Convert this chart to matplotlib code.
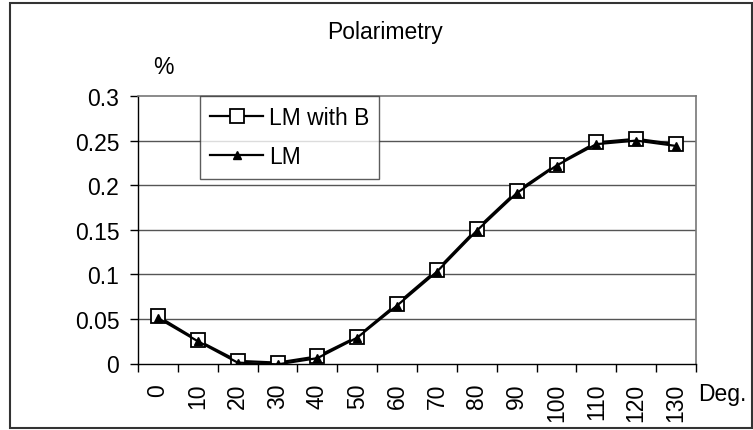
import matplotlib.pyplot as plt
from matplotlib.patches import Rectangle

# data
angles = ["0", "10", "20", "30", "40", "50", "60", "70", "80", "90", "100", "110", "120", "130"]
lm_with_b = [0.053, 0.026, 0.003, 0.001, 0.008, 0.030, 0.067, 0.105, 0.151, 0.193, 0.223, 0.248, 0.252, 0.246]
lm = [0.051, 0.025, 0.001, -0.001, 0.006, 0.029, 0.065, 0.103, 0.149, 0.191, 0.222, 0.246, 0.250, 0.244]
y_ticks = [0, 0.05, 0.1, 0.15, 0.2, 0.25, 0.3]
y_labels = ["0", "0.05", "0.1", "0.15", "0.2", "0.25", "0.3"]

plt.rcParams["font.family"] = ["Liberation Sans", "DejaVu Sans"]
FS = 16.5

W, H = 753, 431
fig = plt.figure(figsize=(W / 100, H / 100), dpi=100)

# outer chart border
fig.patches.append(Rectangle((10 / W, 1 - 429 / H), 742 / W, 425 / H, transform=fig.transFigure,
                             fill=False, edgecolor="#333333", linewidth=1.5))

ax = fig.add_axes([138 / W, 1 - 364.5 / H, 558 / W, 267.5 / H])

x = list(range(len(angles)))
ax.plot(x, lm_with_b, color="black", linewidth=1.6, marker="s", markersize=9.5,
        markerfacecolor="white", markeredgecolor="black", markeredgewidth=1.3, label="LM with B")
ax.plot(x, lm, color="black", linewidth=1.6, marker="^", markersize=6,
        markerfacecolor="black", markeredgecolor="black", label="LM")

ax.set_xlim(-0.5, len(angles) - 0.5)
ax.set_ylim(0, 0.3)

for v in y_ticks[1:-1]:
    ax.axhline(v, color="#555555", linewidth=1, zorder=0)

ax.set_xticks(x)
ax.set_xticklabels(angles, rotation=90, fontsize=FS)
ax.set_xticks([i - 0.5 for i in range(len(angles) + 1)], minor=True)
ax.tick_params(axis="x", which="major", length=0, pad=14)
ax.tick_params(axis="x", which="minor", length=5.5, width=1, color="black", direction="out")

ax.set_yticks(y_ticks)
ax.set_yticklabels(y_labels, fontsize=FS)
ax.tick_params(axis="y", length=5.5, width=1, direction="out", pad=8)

for side in ["top", "right"]:
    ax.spines[side].set_color("#777777")
    ax.spines[side].set_linewidth(1.2)
for side in ["left", "bottom"]:
    ax.spines[side].set_color("black")
    ax.spines[side].set_linewidth(1)

leg = fig.legend(loc="upper left", bbox_to_anchor=(200 / W, 1 - 97 / H), borderaxespad=0,
                 fontsize=FS, frameon=True, fancybox=False, shadow=False,
                 handlelength=2.3, handletextpad=0.25, labelspacing=0.7, borderpad=0.45)
leg.get_frame().set_edgecolor("#333333")
leg.get_frame().set_linewidth(1)

fig.text(385 / W, 1 - 33 / H, "Polarimetry", ha="center", va="center", fontsize=FS)
fig.text(163 / W, 1 - 68 / H, "%", ha="center", va="center", fontsize=FS)
fig.text(698 / W, 1 - 395 / H, "Deg.", ha="left", va="center", fontsize=FS)

fig.savefig("out.png", dpi=100)
